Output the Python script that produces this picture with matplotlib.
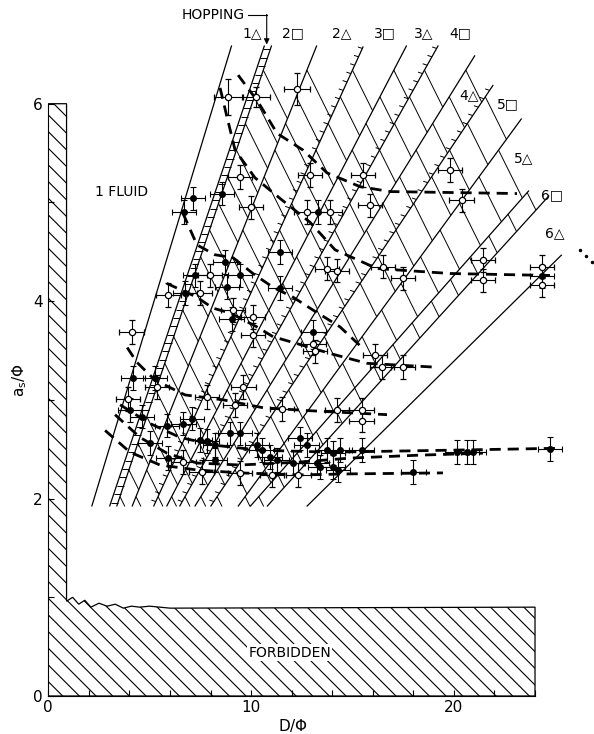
import numpy as np
import matplotlib
matplotlib.use("Agg")
import matplotlib.pyplot as plt
from matplotlib.patches import Polygon
from matplotlib.collections import LineCollection

plt.rcParams['hatch.linewidth'] = 0.8

# phase boundary lines: x at a_s/phi = y_base and the upper end point
y_base = 1.92
bnd_xb = [2.14, 3.02, 4.13, 5.19, 5.83, 6.47, 7.22, 8.00, 9.35, 9.95, 10.78, 12.74]
bnd_xt = [9.04, 10.66, 13.24, 15.53, 17.67, 19.23, 21.04, 21.94, 23.34, 23.70, 24.70, 25.32]
bnd_yt = [6.59, 6.59, 6.59, 6.58, 6.59, 6.59, 6.49, 6.19, 5.85, 5.12, 5.07, 4.47]
bnd_kind = ['plain', 'ladder', 'plain', 'ticked', 'plain', 'ticked', 'plain',
            'ticked', 'plain', 'band', 'band', 'plain']
hatched = [(1, 2), (2, 3), (3, 4), (4, 5), (5, 6), (6, 7), (7, 8), (8, 9)]

# region labels
lab_txt = ['1\u25b3', '2\u25a1', '2\u25b3', '3\u25a1', '3\u25b3', '4\u25a1',
           '4\u25b3', '5\u25a1', '5\u25b3', '6\u25a1', '6\u25b3']
lab_x = [10.03, 12.07, 14.47, 16.60, 18.53, 20.30, 20.75, 22.64, 23.46, 24.83, 24.98]
lab_y = [6.71, 6.71, 6.71, 6.71, 6.71, 6.71, 6.09, 6.00, 5.45, 5.07, 4.69]

# measured points, open symbols
open_x = [8.88, 10.24, 12.25, 12.90, 9.45, 9.98, 12.74, 13.89, 15.53, 15.86, 19.81, 20.38,
          7.97, 5.92, 7.48, 9.12, 10.11, 10.11, 13.73, 14.22, 4.11, 5.35, 3.94, 7.81,
          9.62, 9.21, 6.66, 7.56, 9.45, 11.02, 12.33, 11.51, 14.22, 13.15, 16.52, 17.50,
          21.45, 21.45, 24.33, 24.33, 13.07, 16.11, 16.44, 17.50, 15.45, 15.45]
open_y = [6.07, 6.07, 6.15, 5.28, 5.26, 4.95, 4.90, 4.90, 5.28, 4.97, 5.33, 5.02,
          4.26, 4.06, 4.08, 3.91, 3.84, 3.66, 4.33, 4.31, 3.69, 3.13, 3.01, 3.03,
          3.13, 2.95, 2.37, 2.27, 2.26, 2.24, 2.24, 2.91, 2.90, 3.49, 4.35, 4.23,
          4.42, 4.21, 4.35, 4.16, 3.57, 3.45, 3.33, 3.33, 2.90, 2.79]
open_ye = [0.18, 0.10, 0.16] + [0.12] * 43
open_xe = [0.7, 0.7, 0.65] + [0.6] * 43
# measured points, filled symbols
fill_x = [8.55, 7.15, 6.69, 13.31, 8.71, 9.45, 7.23, 6.74, 8.80, 9.04, 11.43, 11.43,
          13.07, 4.19, 5.26, 4.03, 4.61, 5.01, 5.84, 6.66, 7.07, 7.48, 7.81, 8.22,
          8.96, 9.45, 5.92, 8.22, 10.28, 10.52, 10.93, 11.26, 12.41, 12.74, 12.08, 13.23,
          13.73, 14.05, 14.05, 24.33, 14.38, 15.45, 13.40, 14.30, 20.14, 20.63, 20.96,
          24.74, 18.00]
fill_y = [5.09, 5.04, 4.90, 4.90, 4.40, 4.26, 4.26, 4.08, 4.14, 3.82, 4.13, 4.50,
          3.69, 3.22, 3.22, 2.90, 2.83, 2.56, 2.74, 2.76, 2.81, 2.59, 2.58, 2.54,
          2.66, 2.66, 2.41, 2.39, 2.54, 2.49, 2.42, 2.39, 2.61, 2.54, 2.36, 2.36,
          2.49, 2.46, 2.32, 4.25, 2.49, 2.49, 2.32, 2.29, 2.47, 2.47, 2.47,
          2.50, 2.27]
err_x = 0.6
err_y = 0.12

# dashed guide curves
curves = [
    ([9.36, 10.34, 11.28, 12.56, 13.74, 15.37, 16.85, 23.11],
     [6.29, 6.02, 5.70, 5.53, 5.30, 5.16, 5.11, 5.09]),
    ([8.47, 8.76, 9.21, 10.19, 11.43, 12.90, 14.14, 16.21, 19.81, 24.74],
     [6.16, 5.91, 5.53, 5.25, 5.04, 4.80, 4.52, 4.33, 4.28, 4.26]),
    ([6.64, 7.33, 8.22, 9.11, 10.09, 11.08, 12.07, 13.05, 14.38, 15.37],
     [4.89, 4.57, 4.47, 4.44, 4.28, 4.14, 4.04, 3.91, 3.74, 3.55]),
    ([5.84, 7.33, 8.11, 8.96, 10.28, 11.08, 12.26, 13.89, 15.72, 19.17],
     [4.18, 4.04, 3.93, 3.88, 3.74, 3.64, 3.57, 3.47, 3.37, 3.33]),
    ([3.89, 4.37, 5.26, 6.74, 8.62, 10.59, 12.90, 16.70],
     [3.53, 3.38, 3.20, 3.05, 3.00, 2.92, 2.89, 2.85]),
    ([3.54, 5.02, 6.49, 8.22, 10.44, 13.89, 19.81, 25.23],
     [2.95, 2.76, 2.62, 2.54, 2.49, 2.47, 2.49, 2.51]),
    ([3.29, 4.52, 5.85, 7.33, 9.45, 12.41, 14.88, 18.33, 21.43],
     [2.85, 2.62, 2.46, 2.36, 2.34, 2.37, 2.41, 2.44, 2.46]),
    ([2.80, 4.03, 5.51, 7.33, 9.45, 12.41, 14.88, 19.46],
     [2.69, 2.47, 2.34, 2.29, 2.26, 2.24, 2.25, 2.26]),
]

# forbidden region outline (top edge, from the wall out)
forb_x = [0.9, 1.2, 1.5, 1.8, 2.1, 2.5, 2.9, 3.3, 3.7, 4.1, 4.5, 5.0, 5.5, 6.0, 24.0]
forb_y = [0.96, 1.00, 0.93, 0.97, 0.90, 0.94, 0.91, 0.93, 0.89, 0.91, 0.90, 0.91, 0.90, 0.89, 0.90]
wall_x = 0.9
wall_top = 6.0


def xline(i, y, shift=0.0):
    k = (bnd_xt[i] - bnd_xb[i]) / (bnd_yt[i] - y_base)
    return bnd_xb[i] + shift + (y - y_base) * k


def slope(i):
    return (bnd_xt[i] - bnd_xb[i]) / (bnd_yt[i] - y_base)


def hatch_band(i, j, step, shift_i=0.0):
    u, v = 0.9, -0.372
    segs = []
    top = bnd_yt[i]
    for y0 in np.arange(y_base + 0.1, top, step):
        x0 = xline(i, y0, shift_i)
        t = (xline(j, y0) - x0) / (u - v * slope(j))
        y1 = y0 + v * t
        if y1 < y_base:
            t = (y0 - y_base) / -v
            y1 = y_base
        if y1 > bnd_yt[j]:
            continue
        segs.append([(x0, y0), (x0 + u * t, y1)])
    return segs


fig = plt.figure(figsize=(5.94, 7.34), dpi=100)
ax = fig.add_axes([48.3 / 594, 38 / 734, 26.5 * 20.28 / 594, 691 / 734])
ax.set_xlim(0, 26.5)
ax.set_ylim(0, 7.0)

for s in ['top', 'right']:
    ax.spines[s].set_visible(False)
ax.spines['left'].set_bounds(0, 6)
ax.spines['bottom'].set_bounds(0, 24)
ax.set_xticks(np.arange(0, 25, 2))
ax.set_xticklabels(['0' if v == 0 else ('10' if v == 10 else ('20' if v == 20 else ''))
                    for v in range(0, 25, 2)])
ax.set_yticks(np.arange(0, 7, 1))
ax.set_yticklabels(['0', '', '2', '', '4', '', '6'])
ax.tick_params(direction='in', length=4, width=0.8, labelsize=11)
ax.tick_params(axis='x', pad=3)
ax.tick_params(axis='y', pad=4)

# forbidden area with the wall
poly = [(0, 0), (24, 0), (24, forb_y[-1])]
poly += list(zip(forb_x[::-1], forb_y[::-1]))
poly += [(wall_x, wall_top), (0, wall_top)]
ax.add_patch(Polygon(poly, closed=True, facecolor='white', edgecolor='black',
                     hatch='\\\\', lw=0.9, zorder=1))
ax.text(11.9, 0.44, 'FORBIDDEN', ha='center', va='center', fontsize=10,
        bbox=dict(facecolor='white', edgecolor='none', pad=1), zorder=2)

# phase boundaries
lines = []
ticks = []
for i in range(len(bnd_xb)):
    ys = np.array([y_base, bnd_yt[i]])
    if bnd_kind[i] == 'ladder':
        lines.append([(xline(i, ys[0]), ys[0]), (xline(i, ys[1]), ys[1])])
        lines.append([(xline(i, ys[0], 0.35), ys[0]), (xline(i, ys[1], 0.35), ys[1])])
        for y in np.arange(y_base + 0.04, bnd_yt[i], 0.085):
            ticks.append([(xline(i, y), y), (xline(i, y, 0.35), y)])
    else:
        lines.append([(xline(i, ys[0]), ys[0]), (xline(i, ys[1]), ys[1])])
    if bnd_kind[i] == 'ticked':
        for y in np.arange(y_base + 0.05, bnd_yt[i], 0.085):
            ticks.append([(xline(i, y) - 0.22, y + 0.015), (xline(i, y), y)])

hatch_segs = []
for i, j in hatched:
    sh = 0.35 if bnd_kind[i] == 'ladder' else 0.0
    hatch_segs += hatch_band(i, j, 0.27, sh)
hatch_segs += hatch_band(9, 10, 0.22)

ax.add_collection(LineCollection(lines, colors='black', linewidths=0.9, zorder=3))
ax.add_collection(LineCollection(ticks, colors='black', linewidths=0.7, zorder=3))
ax.add_collection(LineCollection(hatch_segs, colors='black', linewidths=0.7, zorder=3))

for cx, cy in curves:
    ax.plot(cx, cy, color='black', lw=2.0, ls=(0, (4, 2.5)), zorder=4)

ax.errorbar(fill_x, fill_y, xerr=err_x, yerr=err_y, fmt='o', ms=4, mfc='black',
            mec='black', ecolor='black', elinewidth=0.8, capsize=2, capthick=0.8, zorder=5)
ax.errorbar(open_x, open_y, xerr=open_xe, yerr=open_ye, fmt='o', ms=4.5, mfc='white',
            mec='black', mew=0.9, ecolor='black', elinewidth=0.8, capsize=2,
            capthick=0.8, zorder=6)

for t, x, y in zip(lab_txt, lab_x, lab_y):
    ax.text(x, y, t, ha='center', va='center', fontsize=10)

ax.text(3.59, 5.11, '1 FLUID', ha='center', va='center', fontsize=10)
ax.text(8.15, 6.9, 'HOPPING', ha='center', va='center', fontsize=10)
ax.plot([9.86, 10.77], [6.9, 6.9], color='black', lw=0.8, clip_on=False)
ax.annotate('', xy=(10.77, 6.6), xytext=(10.77, 6.905),
            arrowprops=dict(arrowstyle='-|>', color='black', lw=0.8,
                            mutation_scale=8, shrinkA=0, shrinkB=0))
ax.plot([26.2, 26.5, 26.8], [4.52, 4.46, 4.40], 'k.', ms=3, clip_on=False)

fig.text(293 / 594, 1 - 726 / 734, r'$\mathregular{D/\Phi}$', ha='center',
         va='center', fontsize=11)
fig.text(20 / 594, 1 - 380 / 734, r'$\mathregular{a_s/\Phi}$', rotation=90,
         ha='center', va='center', fontsize=11)

fig.savefig('out.png', dpi=100)
